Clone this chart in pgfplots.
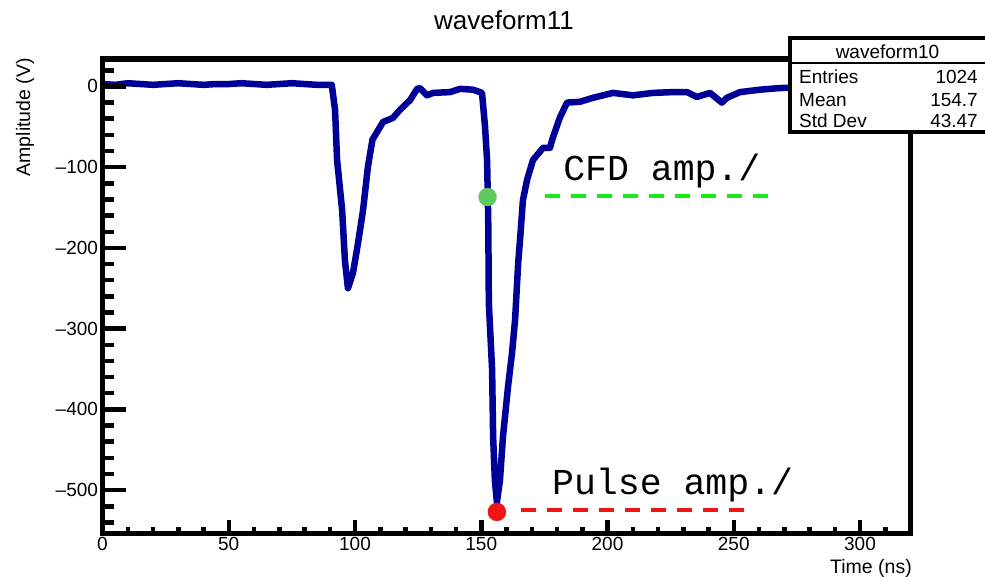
\documentclass[border=0pt]{standalone}
\usepackage{fontspec}
\setmainfont{Liberation Sans}
\newfontfamily\monofont{Liberation Mono}
\usepackage{pgfplots}
\pgfplotsset{compat=1.18}
\definecolor{rootblue}{rgb}{0,0,0.6}
\definecolor{dotgreen}{RGB}{95,200,95}
\definecolor{dashgreen}{RGB}{25,235,25}
\definecolor{dotred}{RGB}{240,20,20}
\begin{document}
\begin{tikzpicture}
\pgfplotsset{
  common/.style={
    scale only axis, width=808pt, height=474.7pt,
    xmin=0, xmax=320, ymin=-554, ymax=34,
    at={(0pt,0pt)}, anchor=south west,
    tick align=inside,
    tick style={line width=4.5pt, black},
  }
}
\useasboundingbox (-102.5pt,-42.3pt) rectangle (882.5pt,533.7pt);
\begin{axis}[common,
  axis line style={line width=5.5pt},
  axis on top,
  xtick=\empty, minor xtick={},
  ytick={-500,-400,-300,-200,-100,0},
  yticklabels={–500,–400,–300,–200,–100,0},
  minor ytick={-540,-520,...,20},
  ytick pos=left,
  major tick length=23.5pt, minor tick length=11.5pt,
  yticklabel style={font=\fontsize{19}{22}\selectfont, xshift=-1pt},
]
\addplot[rootblue, line width=6.5pt, line join=round] coordinates {
(0,3) (5,2) (10,4) (15,3) (20,2) (25,3) (30,4) (35,3) (40,2) (45,3) (50,3)
(55,4) (60,3) (65,2) (70,3) (75,4) (80,3) (85,2) (90.8,2)
(92.1,-29) (92.9,-91) (94.9,-153) (96.0,-215) (97.2,-250) (99.2,-231)
(101.2,-194) (103.2,-153) (105.1,-100) (106.9,-66) (111.1,-44) (115.0,-39)
(117.8,-29) (121.8,-17) (124.6,-3) (125.7,-2) (128.5,-11) (130.9,-8)
(137.6,-7) (141.6,-3) (146.7,-4) (149.5,-7)
(150.3,-8) (151.5,-50) (152.3,-91) (152.6,-137) (152.8,-174) (153.0,-268)
(154.3,-351) (154.7,-434) (155.4,-488) (156.2,-515)
(157.4,-488) (158.6,-434) (160.6,-372) (162.2,-330) (163.4,-289)
(164.6,-220) (165.6,-180) (166.5,-141) (168.2,-115) (170.5,-91) (174.5,-76)
(177.2,-76) (178.4,-63) (181.2,-38) (184,-20) (189.1,-19) (194.3,-14)
(202.2,-8) (210.1,-11) (218,-8) (225.9,-7) (231.5,-7) (235.4,-13)
(240.6,-8) (245.3,-20) (247.3,-14) (252.5,-7) (260.4,-4) (268.3,-2)
(280,-1) (300,0) (320,0)
};
\addplot[dashgreen, line width=4pt, dash pattern=on 15pt off 11pt] coordinates {(175.2,-135.7) (267.1,-135.7)};
\addplot[dotred, line width=4pt, dash pattern=on 15pt off 11pt] coordinates {(165.7,-524.8) (257.6,-524.8)};
\addplot[only marks, mark=*, mark size=9pt, color=dotgreen] coordinates {(152.5,-137)};
\addplot[only marks, mark=*, mark size=9pt, color=dotred] coordinates {(156.2,-527)};
\node[anchor=base west, inner sep=0pt, font=\monofont\fontsize{36.5}{40}\selectfont] at (axis cs:182.4,-115.9) {CFD amp./};
\node[anchor=base west, inner sep=0pt, font=\monofont\fontsize{36.5}{40}\selectfont] at (axis cs:178,-506) {Pulse amp./};
\end{axis}
\begin{axis}[common,
  axis line style={draw=none},
  ytick=\empty, minor ytick={},
  xtick={0,50,100,150,200,250,300},
  minor xtick={0,10,...,320},
  xtick pos=left,
  major tick length=13.5pt, minor tick length=7pt,
  xticklabel style={font=\fontsize{19}{22}\selectfont},
  /pgf/number format/assume math mode=true,
]
\end{axis}
% title and axis labels
\node[font=\fontsize{26}{30}\selectfont] at (401.5pt,513.7pt) {waveform11};
\node[rotate=90, anchor=east, inner sep=0pt, font=\fontsize{19.5}{22}\selectfont] at (-77.5pt,475.7pt) {Amplitude (V)};
\node[anchor=base east, inner sep=0pt, font=\fontsize{19.5}{22}\selectfont] at (809.5pt,-39.3pt) {Time (ns)};
% stats box
\filldraw[fill=white, draw=black, line width=3.5pt] (687.5pt,401.7pt) rectangle (900pt,495.7pt);
\draw[line width=2.5pt] (687.5pt,470.7pt) -- (900pt,470.7pt);
\begin{scope}[every node/.style={inner sep=0pt, font=\fontsize{19}{22}\selectfont}]
\node at (785pt,481.7pt) {waveform10};
\node[anchor=west] at (696.5pt,456.7pt) {Entries};
\node[anchor=west] at (696.5pt,433.7pt) {Mean};
\node[anchor=west] at (696.5pt,412.7pt) {Std Dev};
\node[anchor=east] at (875.5pt,456.7pt) {1024};
\node[anchor=east] at (875.5pt,433.7pt) {154.7};
\node[anchor=east] at (875.5pt,412.7pt) {43.47};
\end{scope}
\end{tikzpicture}
\end{document}
